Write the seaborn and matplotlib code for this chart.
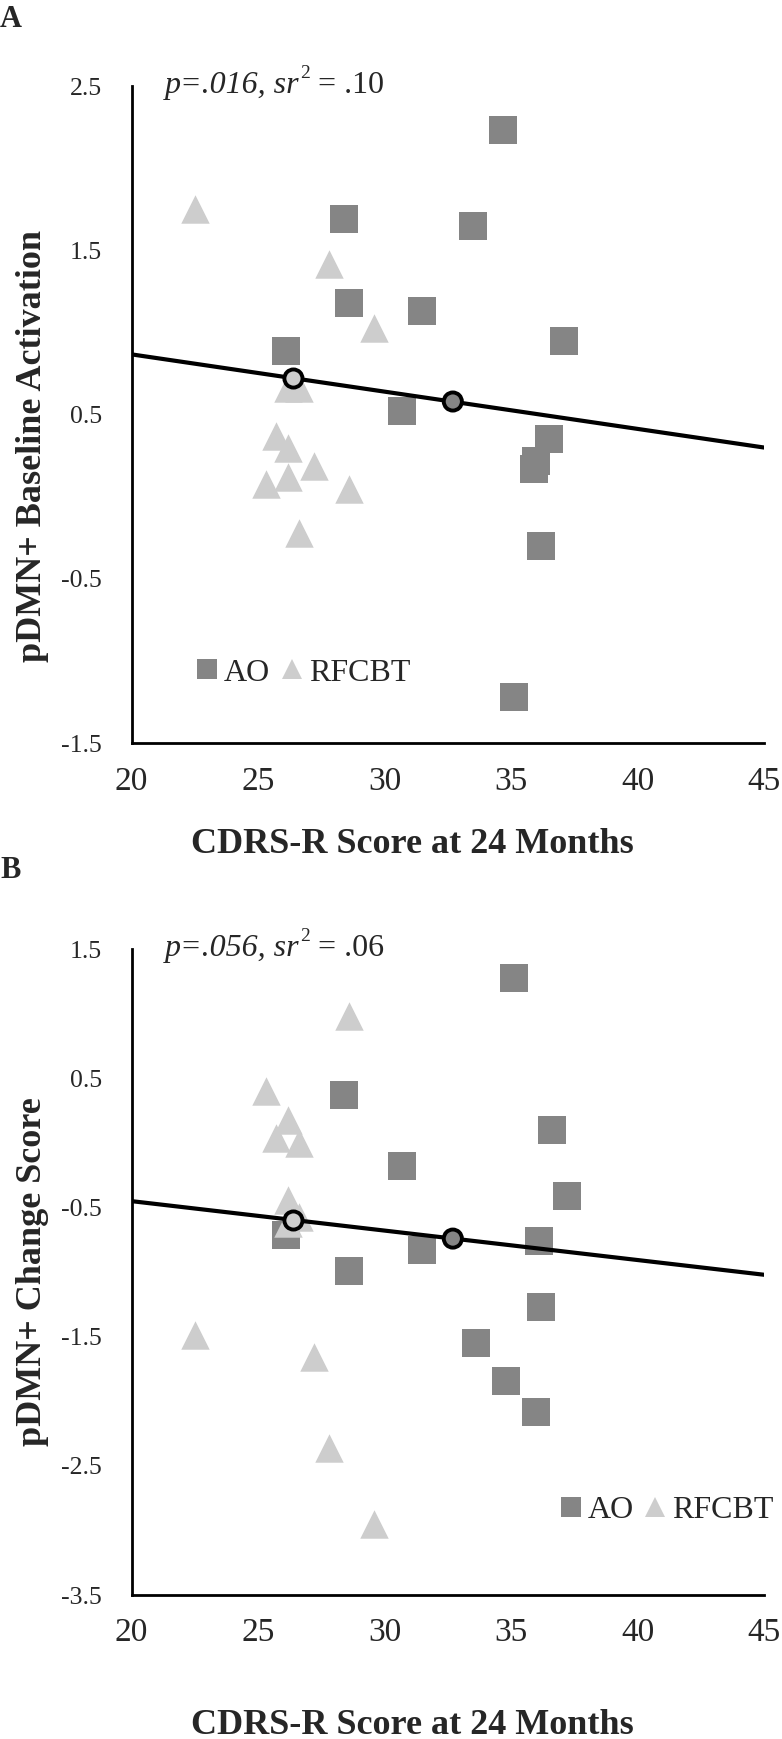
import matplotlib
matplotlib.use("Agg")
import matplotlib.pyplot as plt
from matplotlib.lines import Line2D
import seaborn as sns

# values
ao_x_a = [28.4, 34.7, 33.5, 28.6, 31.5, 37.1, 26.1, 30.7, 36.0, 35.9, 36.5, 36.2, 35.1]
ao_y_a = [1.69, 2.23, 1.65, 1.18, 1.13, 0.95, 0.89, 0.52, 0.22, 0.17, 0.35, -0.30, -1.22]
rf_x_a = [22.5, 27.8, 29.6, 26.2, 26.6, 25.7, 26.2, 27.2, 25.3, 26.2, 28.6, 26.6]
rf_y_a = [1.75, 1.42, 1.03, 0.66, 0.66, 0.37, 0.30, 0.19, 0.08, 0.12, 0.05, -0.22]

ao_x_b = [35.1, 28.4, 36.6, 30.7, 37.2, 26.1, 31.5, 36.1, 28.6, 36.2, 33.6, 34.8, 36.0]
ao_y_b = [1.28, 0.37, 0.10, -0.18, -0.41, -0.71, -0.83, -0.76, -0.99, -1.27, -1.55, -1.84, -2.08]
rf_x_b = [28.6, 25.3, 26.2, 25.7, 26.6, 26.2, 26.6, 26.2, 22.5, 27.2, 27.8, 29.6]
rf_y_b = [0.98, 0.40, 0.18, 0.04, 0.00, -0.44, -0.57, -0.62, -1.49, -1.66, -2.36, -2.95]

fit_x = [20, 45]
fit_y_a = [0.867, 0.30]
fit_y_b = [-0.45, -1.02]

mean_groups = ["RFCBT", "AO"]
mean_x = [26.4, 32.7]
mean_y_a = [0.72, 0.58]
mean_y_b = [-0.60, -0.74]

x_ticks = [20, 25, 30, 35, 40, 45]
y_ticks_a = [-1.5, -0.5, 0.5, 1.5, 2.5]
y_ticks_b = [-3.5, -2.5, -1.5, -0.5, 0.5, 1.5]

AO_COLOR = "#858585"
RF_COLOR = "#cdcdcd"

sns.set_style("white")
plt.rcParams["font.family"] = ["Liberation Serif", "DejaVu Serif"]
plt.rcParams["axes.unicode_minus"] = False

fig = plt.figure(figsize=(7.82, 17.39), dpi=100)
ax_a = fig.add_axes([0.1682, 0.5726, 0.977 - 0.1682, 0.9505 - 0.5726])
ax_b = fig.add_axes([0.1682, 0.0828, 0.977 - 0.1682, 0.4541 - 0.0828])


def draw_panel(ax, ao_x, ao_y, rf_x, rf_y, fit_y, mean_y, yticks, p_txt, sr_txt, leg_pos):
    sns.scatterplot(x=ao_x, y=ao_y, marker="s", s=420, color=AO_COLOR,
                    linewidth=0, ax=ax, clip_on=False, zorder=2)
    sns.scatterplot(x=rf_x, y=rf_y, marker="^", s=420, color=RF_COLOR,
                    linewidth=0, ax=ax, clip_on=False, zorder=2)
    sns.lineplot(x=fit_x, y=fit_y, color="black", linewidth=3, ax=ax, zorder=3)
    sns.scatterplot(x=mean_x, y=mean_y, hue=mean_groups,
                    palette={"RFCBT": RF_COLOR, "AO": AO_COLOR}, s=170,
                    edgecolor="black", linewidth=2.8, legend=False, ax=ax, zorder=4)

    ax.set_xlim(20, 45)
    ax.set_ylim(yticks[0], yticks[-1])
    ax.set_xticks(x_ticks)
    ax.set_yticks(yticks)
    ax.set_yticklabels([f"{t:.1f}" for t in yticks])
    ax.tick_params(axis="both", direction="inout", length=13, width=1.8, color="black")
    ax.tick_params(axis="x", pad=10, labelsize=24)
    ax.tick_params(axis="y", pad=15, labelsize=18.5)
    for side in ["top", "right"]:
        ax.spines[side].set_visible(False)
    for side in ["left", "bottom"]:
        ax.spines[side].set_color("black")
        ax.spines[side].set_linewidth(2)
    ax.set_xlabel("")
    ax.set_ylabel("")

    # "p=.xxx, sr² = .xx" : italic part, superscript, upright part
    t1 = ax.text(0.053, 0.989, f"p=.{p_txt}, sr", transform=ax.transAxes, fontsize=23,
                 style="italic", va="baseline", ha="left")
    t2 = ax.annotate("2", xy=(1, 0), xycoords=t1, xytext=(0.5, 13),
                     textcoords="offset points", fontsize=14, va="bottom", ha="left")
    ax.annotate(f" = .{sr_txt}", xy=(1, 0), xycoords=(t2, t1), fontsize=23,
                va="bottom", ha="left")

    handles = [
        Line2D([], [], marker="s", linestyle="", markersize=14.5, color=AO_COLOR, markeredgewidth=0),
        Line2D([], [], marker="^", linestyle="", markersize=15, color=RF_COLOR, markeredgewidth=0),
    ]
    ax.legend(handles, ["AO", "RFCBT"], ncol=2, frameon=False, fontsize=23,
              loc="center left", bbox_to_anchor=leg_pos, borderpad=0, borderaxespad=0,
              handlelength=0.65, handletextpad=0.2, columnspacing=0.35)


draw_panel(ax_a, ao_x_a, ao_y_a, rf_x_a, rf_y_a, fit_y_a, mean_y_a, y_ticks_a,
           "016", "10", (0.1036, 0.107))
draw_panel(ax_b, ao_x_b, ao_y_b, rf_x_b, rf_y_b, fit_y_b, mean_y_b, y_ticks_b,
           "056", "06", (0.678, 0.131))

# axis titles and panel letters
fig.text(412 / 782, 1 - 853 / 1739, "CDRS-R Score at 24 Months", fontsize=26,
         fontweight="bold", ha="center", va="baseline")
fig.text(412 / 782, 1 - 1734 / 1739, "CDRS-R Score at 24 Months", fontsize=26,
         fontweight="bold", ha="center", va="baseline")
fig.text(41 / 782, 1 - 446 / 1739, "pDMN+ Baseline Activation", fontsize=26,
         fontweight="bold", rotation=90, rotation_mode="anchor", ha="center", va="baseline")
fig.text(41 / 782, 1 - 1272 / 1739, "pDMN+ Change Score", fontsize=26,
         fontweight="bold", rotation=90, rotation_mode="anchor", ha="center", va="baseline")
fig.text(0.0, 1 - 27 / 1739, "A", fontsize=22, fontweight="bold", va="baseline")
fig.text(0.0, 1 - 878 / 1739, "B", fontsize=22, fontweight="bold", va="baseline")

fig.savefig("out.png", dpi=100)
